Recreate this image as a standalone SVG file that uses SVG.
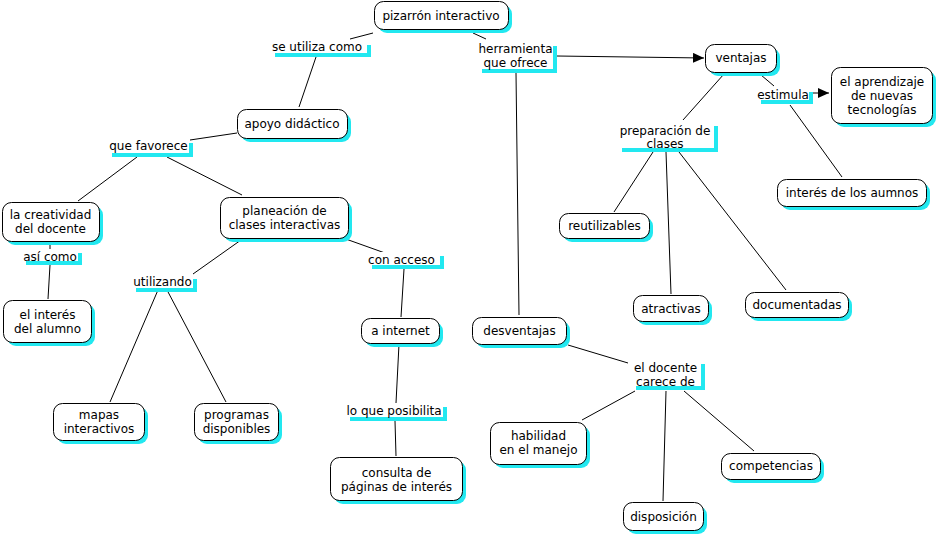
<svg xmlns="http://www.w3.org/2000/svg" width="938" height="536" viewBox="0 0 938 536">
<defs>
<style>
text{font-family:"DejaVu Sans","Verdana","Liberation Sans",sans-serif;font-size:12px;fill:#000;text-anchor:middle}
.box{fill:#fff;stroke:#000;stroke-width:1}
.sh{fill:#22e8f0}
.lb{fill:#fff}
.c{stroke:#000;stroke-width:1;fill:none}
</style>
<marker id="arr" markerWidth="11" markerHeight="10" refX="11" refY="5" orient="auto" markerUnits="userSpaceOnUse">
<path d="M0,0 L11,5 L0,10 z" fill="#000"/>
</marker>
</defs>
<rect width="938" height="536" fill="#fff"/>

<g id="connectors">
<line class="c" x1="350" y1="39" x2="373" y2="33"/>
<line class="c" x1="316" y1="57" x2="299" y2="107"/>
<line class="c" x1="473" y1="33" x2="486" y2="39"/>
<line class="c" x1="557" y1="56" x2="704" y2="58" marker-end="url(#arr)"/>
<line class="c" x1="516" y1="73" x2="519" y2="315"/>
<line class="c" x1="190" y1="140" x2="237" y2="133"/>
<line class="c" x1="137" y1="157" x2="78" y2="201"/>
<line class="c" x1="167" y1="157" x2="242" y2="195"/>
<line class="c" x1="50" y1="242" x2="50" y2="250"/>
<line class="c" x1="50" y1="265" x2="48" y2="299"/>
<line class="c" x1="241" y1="240" x2="193" y2="274"/>
<line class="c" x1="343" y1="238" x2="385" y2="253"/>
<line class="c" x1="158" y1="290" x2="110" y2="402"/>
<line class="c" x1="167" y1="290" x2="226" y2="402"/>
<line class="c" x1="404" y1="269" x2="401" y2="317"/>
<line class="c" x1="399" y1="344" x2="396" y2="403"/>
<line class="c" x1="395" y1="421" x2="396" y2="456"/>
<line class="c" x1="568" y1="345" x2="628" y2="363"/>
<line class="c" x1="635" y1="391" x2="582" y2="420"/>
<line class="c" x1="666" y1="391" x2="663" y2="501"/>
<line class="c" x1="684" y1="391" x2="754" y2="451"/>
<line class="c" x1="724" y1="74" x2="683" y2="120"/>
<line class="c" x1="761" y1="75" x2="774" y2="86"/>
<line class="c" x1="813" y1="93" x2="829" y2="93" marker-end="url(#arr)"/>
<line class="c" x1="790" y1="105" x2="842" y2="177"/>
<line class="c" x1="653" y1="152" x2="614" y2="212"/>
<line class="c" x1="666" y1="152" x2="671" y2="294"/>
<line class="c" x1="679" y1="152" x2="786" y2="290"/>
</g>

<g id="link-se-utiliza-como"><rect class="sh" x="275" y="45" width="96" height="12"/><rect class="lb" x="271" y="41" width="96" height="12"/><text x="317" y="51">se utiliza como</text></g>
<g id="link-herramienta"><rect class="sh" x="482" y="46" width="75" height="27"/><rect class="lb" x="478" y="42" width="75" height="27"/><text x="515.5" y="53">herramienta</text><text x="515.5" y="67">que ofrece</text></g>
<g id="link-que-favorece"><rect class="sh" x="112" y="143" width="81" height="14"/><rect class="lb" x="108" y="139" width="81" height="14"/><text x="148.5" y="150">que favorece</text></g>
<g id="link-asi-como"><rect class="sh" x="26" y="253" width="56" height="12"/><rect class="lb" x="22" y="249" width="56" height="12"/><text x="50" y="260.5">así como</text></g>
<g id="link-utilizando"><rect class="sh" x="136" y="279" width="61" height="13"/><rect class="lb" x="132" y="275" width="61" height="13"/><text x="162.5" y="286">utilizando</text></g>
<g id="link-con-acceso"><rect class="sh" x="372" y="256" width="72" height="13"/><rect class="lb" x="368" y="252" width="72" height="13"/><text x="401.5" y="264">con acceso</text></g>
<g id="link-lo-que-posibilita"><rect class="sh" x="350" y="407" width="97" height="14"/><rect class="lb" x="346" y="403" width="97" height="14"/><text x="394" y="415">lo que posibilita</text></g>
<g id="link-el-docente"><rect class="sh" x="636" y="364" width="69" height="26"/><rect class="lb" x="632" y="360" width="69" height="26"/><text x="665.5" y="372">el docente</text><text x="665.5" y="386">carece de</text></g>
<g id="link-preparacion"><rect class="sh" x="622" y="126" width="96" height="26"/><rect class="lb" x="618" y="122" width="96" height="26"/><text x="665" y="135">preparación de</text><text x="665" y="148">clases</text></g>
<g id="link-estimula"><rect class="sh" x="761" y="92" width="52" height="12"/><rect class="lb" x="757" y="88" width="52" height="12"/><text x="783" y="99">estimula</text></g>

<g id="n-pizarron"><rect class="sh" x="378" y="5" width="134" height="28" rx="9"/><rect class="box" x="374.5" y="1.5" width="134" height="28" rx="9"/><text x="441" y="19.5">pizarrón interactivo</text></g>
<g id="n-apoyo"><rect class="sh" x="241" y="113" width="110" height="29" rx="9"/><rect class="box" x="237.5" y="109.5" width="110" height="29" rx="9"/><text x="292" y="128">apoyo didáctico</text></g>
<g id="n-creatividad"><rect class="sh" x="6" y="206" width="97" height="39" rx="9"/><rect class="box" x="2.5" y="202.5" width="97" height="39" rx="9"/><text x="50.5" y="219">la creatividad</text><text x="50.5" y="233">del docente</text></g>
<g id="n-interes-alumno"><rect class="sh" x="7" y="304" width="88" height="42" rx="9"/><rect class="box" x="3.5" y="300.5" width="88" height="42" rx="9"/><text x="47.5" y="318.5">el interés</text><text x="47.5" y="332.5">del alumno</text></g>
<g id="n-planeacion"><rect class="sh" x="224" y="201" width="128" height="41" rx="9"/><rect class="box" x="220.5" y="197.5" width="128" height="41" rx="9"/><text x="284.5" y="215">planeación de</text><text x="284.5" y="229">clases interactivas</text></g>
<g id="n-mapas"><rect class="sh" x="57" y="407" width="91" height="37" rx="9"/><rect class="box" x="53.5" y="403.5" width="91" height="37" rx="9"/><text x="99" y="418.5">mapas</text><text x="99" y="432.5">interactivos</text></g>
<g id="n-programas"><rect class="sh" x="198" y="407" width="84" height="37" rx="9"/><rect class="box" x="194.5" y="403.5" width="84" height="37" rx="9"/><text x="236.5" y="418.5">programas</text><text x="236.5" y="432.5">disponibles</text></g>
<g id="n-internet"><rect class="sh" x="365" y="322" width="78" height="25" rx="9"/><rect class="box" x="361.5" y="318.5" width="78" height="25" rx="9"/><text x="400.5" y="335">a internet</text></g>
<g id="n-consulta"><rect class="sh" x="334" y="461" width="132" height="43" rx="9"/><rect class="box" x="330.5" y="457.5" width="132" height="43" rx="9"/><text x="396.5" y="476.5">consulta de</text><text x="396.5" y="490.5">páginas de interés</text></g>
<g id="n-desventajas"><rect class="sh" x="476" y="321" width="94" height="27" rx="9"/><rect class="box" x="472.5" y="317.5" width="94" height="27" rx="9"/><text x="519.5" y="334.5">desventajas</text></g>
<g id="n-habilidad"><rect class="sh" x="494" y="426" width="96" height="42" rx="9"/><rect class="box" x="490.5" y="422.5" width="96" height="42" rx="9"/><text x="538.5" y="439.5">habilidad</text><text x="538.5" y="454">en el manejo</text></g>
<g id="n-disposicion"><rect class="sh" x="627" y="506" width="80" height="28" rx="9"/><rect class="box" x="623.5" y="502.5" width="80" height="28" rx="9"/><text x="663.5" y="520.5">disposición</text></g>
<g id="n-competencias"><rect class="sh" x="725" y="457" width="99" height="26" rx="9"/><rect class="box" x="721.5" y="453.5" width="99" height="26" rx="9"/><text x="771" y="470">competencias</text></g>
<g id="n-ventajas"><rect class="sh" x="709" y="48" width="71" height="28" rx="9"/><rect class="box" x="705.5" y="44.5" width="71" height="28" rx="9"/><text x="741" y="62">ventajas</text></g>
<g id="n-aprendizaje"><rect class="sh" x="835" y="71" width="101" height="56" rx="9"/><rect class="box" x="831.5" y="67.5" width="101" height="56" rx="9"/><text x="882" y="86">el aprendizaje</text><text x="882" y="100">de nuevas</text><text x="882" y="114">tecnologías</text></g>
<g id="n-interes-aumnos"><rect class="sh" x="781" y="183" width="149" height="27" rx="9"/><rect class="box" x="777.5" y="179.5" width="149" height="27" rx="9"/><text x="852" y="197">interés de los aumnos</text></g>
<g id="n-reutilizables"><rect class="sh" x="563" y="217" width="90" height="25" rx="9"/><rect class="box" x="559.5" y="213.5" width="90" height="25" rx="9"/><text x="604.5" y="230">reutilizables</text></g>
<g id="n-atractivas"><rect class="sh" x="637" y="299" width="75" height="26" rx="9"/><rect class="box" x="633.5" y="295.5" width="75" height="26" rx="9"/><text x="671" y="312.5">atractivas</text></g>
<g id="n-documentadas"><rect class="sh" x="749" y="296" width="103" height="25" rx="9"/><rect class="box" x="745.5" y="292.5" width="103" height="25" rx="9"/><text x="797" y="308.5">documentadas</text></g>
</svg>
